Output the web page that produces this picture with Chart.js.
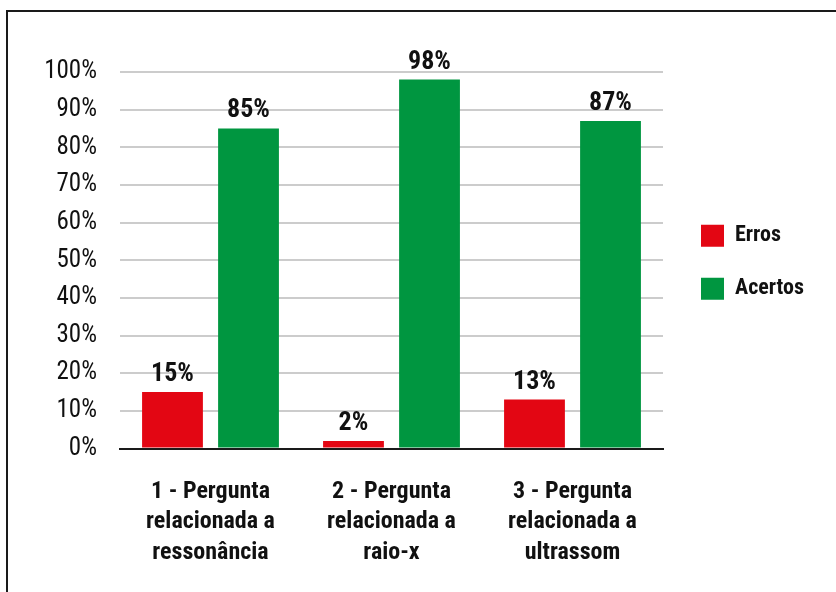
<!DOCTYPE html>
<html><head><meta charset="utf-8">
<script src="https://cdn.jsdelivr.net/npm/chart.js@4.4.1/dist/chart.umd.min.js"></script>
<style>html,body{margin:0;padding:0;background:#fff}#wrap{width:836px;height:592px}</style>
</head><body><div id="wrap"><canvas id="c" width="836" height="592"></canvas></div>
<script>
const categories = [
  ["1 - Pergunta", "relacionada a", "ressonância"],
  ["2 - Pergunta", "relacionada a", "raio-x"],
  ["3 - Pergunta", "relacionada a", "ultrassom"]
];
const seriesNames = ["Erros", "Acertos"];
const errosValues = [15, 2, 13];
const acertosValues = [85, 98, 87];
const yMin = 0, yMax = 100, yStep = 10;

const FONT = "'Roboto Condensed', 'Open Sans Condensed', 'DejaVu Sans Condensed', sans-serif";
const RED = '#e30613', GREEN = '#009640', TEXT = '#111111';
const LEGEND_FONT_SIZE = 22, LEGEND_BOX_W = 23, LEGEND_BOX_H = 22, LEGEND_PAD = 31;

// measure legend text to keep the plot area's right edge fixed
const mctx = document.createElement('canvas').getContext('2d');
mctx.font = `bold ${LEGEND_FONT_SIZE}px ${FONT}`;
const maxLegendText = Math.max(...seriesNames.map(s => mctx.measureText(s).width));
const legendWidth = LEGEND_PAD + LEGEND_BOX_W + LEGEND_FONT_SIZE / 2 + maxLegendText + 10;
const PLOT_RIGHT = 663;
const padRight = Math.max(0, 836 - PLOT_RIGHT - legendWidth);

const framePlugin = {
  id: 'frame',
  beforeDraw(chart) {
    const ctx = chart.ctx;
    ctx.save();
    ctx.fillStyle = '#fff';
    ctx.fillRect(0, 0, chart.width, chart.height);
    ctx.strokeStyle = '#1a1a1a';
    ctx.lineWidth = 2;
    ctx.strokeRect(7, 11, 900, 700);
    ctx.restore();
  }
};

const legendShift = {
  id: 'legendShift',
  afterLayout(chart) {
    if (chart.legend) {
      chart.legend.left += 7; chart.legend.right += 7;
      chart.legend.top += 2; chart.legend.bottom += 2;
    }
  }
};

const valueLabels = {
  id: 'valueLabels',
  afterDatasetsDraw(chart) {
    const ctx = chart.ctx;
    ctx.save();
    ctx.font = `bold 26px ${FONT}`;
    ctx.fillStyle = TEXT;
    ctx.textAlign = 'center';
    ctx.textBaseline = 'alphabetic';
    chart.data.datasets.forEach((ds, i) => {
      chart.getDatasetMeta(i).data.forEach((el, j) => {
        ctx.fillText(ds.data[j] + '%', el.x, el.y - 11);
      });
    });
    ctx.restore();
  }
};

new Chart(document.getElementById('c'), {
  type: 'bar',
  data: {
    labels: categories,
    datasets: [
      { label: seriesNames[0], data: errosValues, backgroundColor: RED, categoryPercentage: 0.84, barPercentage: 0.8 },
      { label: seriesNames[1], data: acertosValues, backgroundColor: GREEN, categoryPercentage: 0.84, barPercentage: 0.8 }
    ]
  },
  options: {
    responsive: false,
    animation: false,
    devicePixelRatio: 1,
    layout: { padding: { left: 0, top: 72, right: padRight, bottom: 0 } },
    plugins: {
      legend: {
        position: 'right',
        fullSize: false,
        labels: {
          boxWidth: LEGEND_BOX_W, boxHeight: LEGEND_BOX_H, padding: LEGEND_PAD,
          color: TEXT,
          font: { family: FONT, size: LEGEND_FONT_SIZE, weight: 'bold' }
        }
      },
      tooltip: { enabled: false }
    },
    scales: {
      x: {
        grid: { drawOnChartArea: false, drawTicks: false },
        border: { display: true, color: '#1a1a1a', width: 2 },
        ticks: {
          padding: 28,
          color: TEXT,
          maxRotation: 0,
          autoSkip: false,
          font: { family: FONT, size: 24, weight: 'bold', lineHeight: 1.27 }
        },
        afterFit(scale) { scale.height = 143.5; }
      },
      y: {
        min: yMin, max: yMax,
        grid: { color: '#cccccc', lineWidth: 2, drawTicks: false },
        border: { display: false },
        ticks: {
          stepSize: yStep,
          padding: 23,
          color: TEXT,
          font: { family: FONT, size: 25 },
          callback: v => v + '%'
        },
        afterFit(scale) { scale.width = 120; }
      }
    }
  },
  plugins: [framePlugin, legendShift, valueLabels]
});
</script>
</body></html>
